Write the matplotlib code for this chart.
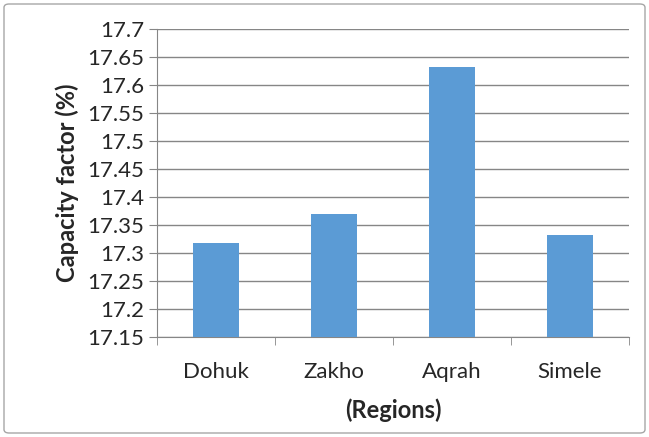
import matplotlib.pyplot as plt
from matplotlib.patches import FancyBboxPatch

regions = ["Dohuk", "Zakho", "Aqrah", "Simele"]
capacity = [17.318, 17.369, 17.632, 17.332]
yticks = [17.15, 17.2, 17.25, 17.3, 17.35, 17.4, 17.45, 17.5, 17.55, 17.6, 17.65, 17.7]

plt.rcParams["font.family"] = ["Lato", "DejaVu Sans"]

fig = plt.figure(figsize=(6.49, 4.37), dpi=100)
ax = fig.add_axes([157 / 649, 1 - 337 / 437, (629 - 157) / 649, (337 - 29) / 437])

x = range(len(regions))
ax.bar(x, capacity, width=0.39, color="#5b9bd5", zorder=3)
ax.set_ylim(17.15, 17.7)
ax.set_xlim(-0.5, len(regions) - 0.5)
ax.set_yticks(yticks)
ax.set_yticklabels([f"{v:g}" for v in yticks])
ax.set_xticks(list(x))
ax.set_xticklabels(regions)
ax.set_xticks([i - 0.5 for i in range(len(regions) + 1)], minor=True)
ax.tick_params(axis="x", which="major", length=0, pad=18, labelsize=16, colors="#262626")
ax.tick_params(axis="x", which="minor", length=6, color="#868686")
ax.tick_params(axis="y", length=6, color="#868686", labelsize=16, labelcolor="#262626", pad=3)
ax.grid(axis="y", color="#868686", linewidth=1, zorder=0)
for side in ["top", "right"]:
    ax.spines[side].set_visible(False)
for side in ["left", "bottom"]:
    ax.spines[side].set_color("#868686")
ax.set_ylabel("Capacity factor (%)", fontsize=17, fontweight="bold", color="#262626", labelpad=6)
ax.set_xlabel("(Regions)", fontsize=17, fontweight="bold", color="#262626", labelpad=12)

border = FancyBboxPatch((4 / 649, 4 / 437), 641 / 649, 429 / 437,
                        boxstyle="round,pad=0,rounding_size=0.008",
                        transform=fig.transFigure, fill=False,
                        edgecolor="#a6a6a6", linewidth=1)
fig.patches.append(border)

fig.savefig("out.png", dpi=100)
